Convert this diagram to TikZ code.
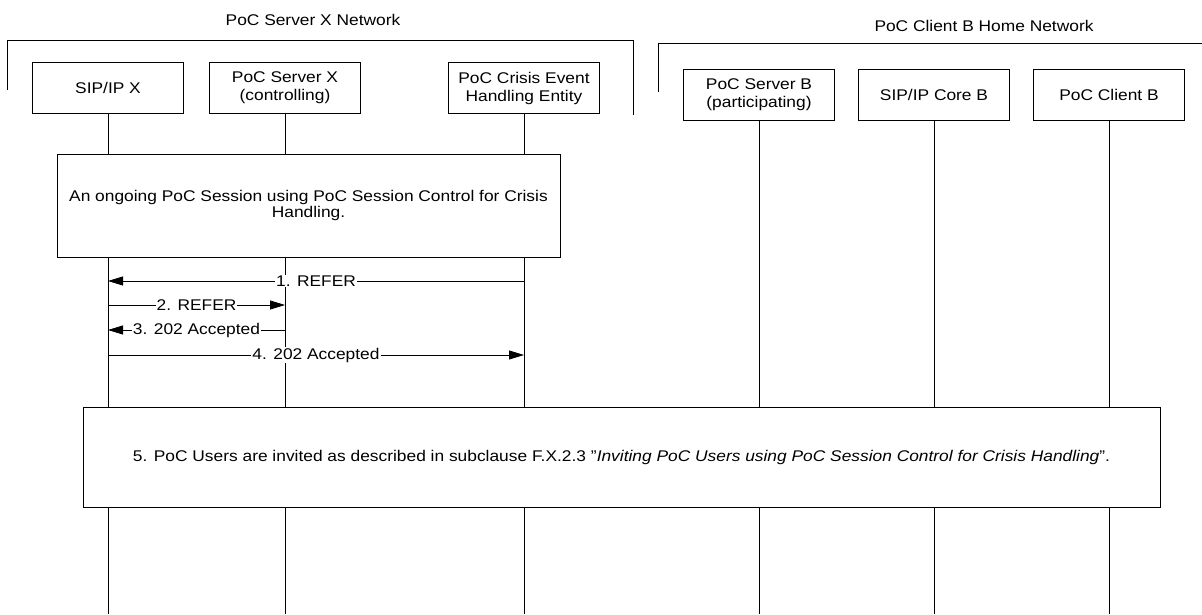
\documentclass[tikz,border=0pt]{standalone}
\usepackage{fontspec}
\setmainfont{Liberation Sans}[FakeStretch=1.12]
\usetikzlibrary{arrows.meta}
\begin{document}
\begin{tikzpicture}[x=1pt,y=-1pt,
  every node/.style={font=\fontsize{15.5}{18}\selectfont},
  ent/.style={draw, fill=white, line width=0.8pt, minimum width=151pt, minimum height=51pt, align=center, inner sep=2pt},
  life/.style={line width=0.8pt},
  msg/.style={line width=0.8pt, -{Triangle[length=15pt,width=9pt]}},
  lbl/.style={fill=white, inner sep=1pt},
  frame/.style={line width=0.8pt},
  bigbox/.style={draw, fill=white, line width=0.8pt, align=center}]
\path[use as bounding box] (0,0) rectangle (1202,614);

% network labels and frames
\node (lblX) at (313,20) {PoC Server X Network};
\node (lblB) at (984,26) {PoC Client B Home Network};
\draw[frame] (7,90) |- (633,40) -- (633,115);
\draw[frame] (658,92) |- (1202,43);

% participants
\node[ent] (sip) at (108,88) {SIP/IP X};
\node[ent] (psx) at (285,88) {PoC Server X\\(controlling)};
\node[ent] (ceh) at (524,88) {PoC Crisis Event\\Handling Entity};
\node[ent] (psb) at (759,94.5) {PoC Server B\\(participating)};
\node[ent] (cb) at (934,94.5) {SIP/IP Core B};
\node[ent] (pcb) at (1109,94.5) {PoC Client B};

% lifelines
\foreach \n in {sip,psx,ceh,psb,cb,pcb}{
  \coordinate (\n-end) at (\n |- 0,614);
  \draw[life] (\n.south) -- (\n-end);
}

% ongoing session box
\node[bigbox, minimum width=503pt, minimum height=103pt, font=\fontsize{15.5}{16}\selectfont] (sess) at (308.5,205.5)
  {An ongoing PoC Session using PoC Session Control for Crisis\\Handling.};

% messages
\draw[msg] (ceh |- 0,281) -- node[lbl]{1. REFER} (sip |- 0,281);
\draw[msg] (sip |- 0,305) -- node[lbl]{2. REFER} (psx |- 0,305);
\draw[msg] (psx |- 0,330) -- node[lbl]{3. 202 Accepted} (sip |- 0,330);
\draw[msg] (sip |- 0,355) -- node[lbl]{4. 202 Accepted} (ceh |- 0,355);

% invitation box
\node[bigbox, minimum width=1077pt, minimum height=100pt] (inv) at (621.5,457)
  {5. PoC Users are invited as described in subclause F.X.2.3 "\textit{Inviting PoC Users using PoC Session Control for Crisis Handling}”.};
\end{tikzpicture}
\end{document}
